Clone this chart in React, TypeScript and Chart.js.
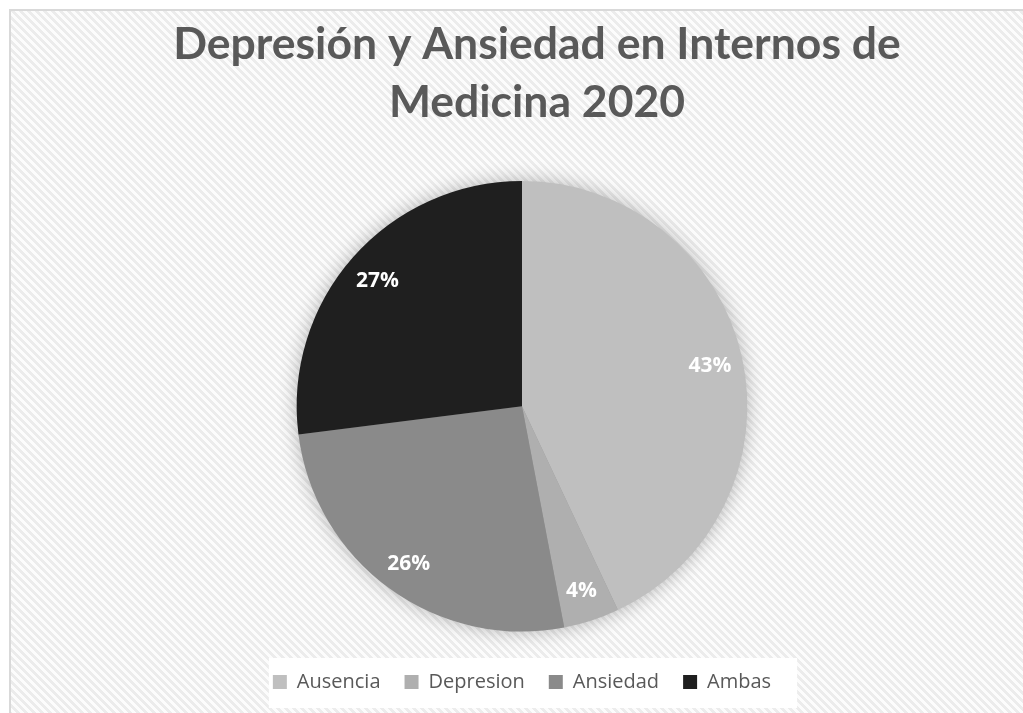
import React, { useEffect, useRef } from 'react';
import { Chart, registerables } from 'chart.js';

Chart.register(...registerables);

const TITLE_LINES = ['Depresión y Ansiedad en Internos de', 'Medicina 2020'];
const CATEGORIES = ['Ausencia', 'Depresion', 'Ansiedad', 'Ambas'];
const VALUES = [43, 4, 26, 27];
const COLORS = ['#bfbfbf', '#afafaf', '#8a8a8a', '#1f1f1f'];

const FONT = "'Open Sans', 'DejaVu Sans', sans-serif";
const TITLE_FONT = "Lato, 'Open Sans', sans-serif";

function makePattern(ctx: CanvasRenderingContext2D) {
  const size = 8;
  const c = document.createElement('canvas');
  c.width = size;
  c.height = size;
  const g = c.getContext('2d')!;
  const img = g.createImageData(size, size);
  for (let y = 0; y < size; y++) {
    for (let x = 0; x < size; x++) {
      const k = (((x - y) % size) + size) % size;
      const v = k < 4 ? 236 : 252;
      const i = (y * size + x) * 4;
      img.data[i] = v;
      img.data[i + 1] = v;
      img.data[i + 2] = v;
      img.data[i + 3] = 255;
    }
  }
  g.putImageData(img, 0, 0);
  return ctx.createPattern(c, 'repeat');
}

const backgroundPlugin = {
  id: 'bgPattern',
  afterLayout(chart: any) {
    // the title block is centred on the whole chart, not on the plot area
    const tb = chart.titleBlock;
    if (tb) tb.right = chart.width;
  },
  beforeDraw(chart: any) {
    const ctx = chart.ctx as CanvasRenderingContext2D;
    ctx.save();
    const pat = makePattern(ctx);
    if (pat) ctx.fillStyle = pat;
    ctx.fillRect(0, 0, chart.width, chart.height);
    const lg = chart.legend;
    if (lg && lg.legendHitBoxes && lg.legendHitBoxes.length) {
      const boxes = lg.legendHitBoxes;
      let l = Infinity, r = -Infinity, t = Infinity, b = -Infinity;
      boxes.forEach((h: any) => {
        l = Math.min(l, h.left);
        r = Math.max(r, h.left + h.width);
        t = Math.min(t, h.top);
        b = Math.max(b, h.top + h.height);
      });
      ctx.fillStyle = '#ffffff';
      ctx.fillRect(l - 4, t - 14, r - l + 30, b - t + 30);
    }
    ctx.restore();
  },
};

const shadowPlugin = {
  id: 'pieShadow',
  beforeDatasetsDraw(chart: any) {
    const meta = chart.getDatasetMeta(0);
    const arc = meta.data[0];
    if (!arc) return;
    const ctx = chart.ctx as CanvasRenderingContext2D;
    ctx.save();
    ctx.shadowColor = 'rgba(0,0,0,0.3)';
    ctx.shadowBlur = 20;
    ctx.fillStyle = '#999999';
    ctx.beginPath();
    ctx.arc(arc.x, arc.y, arc.outerRadius - 1, 0, Math.PI * 2);
    ctx.fill();
    ctx.restore();
  },
};

const labelPlugin = {
  id: 'sliceLabels',
  afterDatasetsDraw(chart: any) {
    const meta = chart.getDatasetMeta(0);
    const data = chart.data.datasets[0].data as number[];
    const total = data.reduce((a, b) => a + b, 0);
    const ctx = chart.ctx as CanvasRenderingContext2D;
    ctx.save();
    ctx.fillStyle = '#ffffff';
    ctx.font = `bold 21px ${FONT}`;
    ctx.textAlign = 'center';
    ctx.textBaseline = 'middle';
    meta.data.forEach((arc: any, i: number) => {
      const mid = (arc.startAngle + arc.endAngle) / 2;
      const r = arc.outerRadius * 0.855;
      const x = arc.x + Math.cos(mid) * r;
      const y = arc.y + Math.sin(mid) * r + 2;
      ctx.fillText(Math.round((data[i] / total) * 100) + '%', x, y);
    });
    ctx.restore();
  },
};

export default function App() {
  const ref = useRef<HTMLCanvasElement>(null);
  useEffect(() => {
    if (!ref.current) return;
    const chart = new Chart(ref.current, {
      type: 'pie',
      data: {
        labels: CATEGORIES,
        datasets: [
          {
            data: VALUES,
            backgroundColor: COLORS,
            borderWidth: 0,
            radius: '93.2%',
          },
        ],
      },
      options: {
        responsive: false,
        animation: false,
        layout: { padding: { left: 0, right: 30, top: 0, bottom: 11 } },
        plugins: {
          title: {
            display: true,
            text: TITLE_LINES,
            color: '#595959',
            font: { family: TITLE_FONT, size: 44.5, weight: 'bold', lineHeight: 1.32 },
            padding: { top: 4, bottom: 32 },
          },
          legend: {
            display: true,
            position: 'bottom',
            labels: {
              color: '#595959',
              font: { family: FONT, size: 20 },
              boxWidth: 14,
              boxHeight: 14,
              padding: 24,
            },
          },
          tooltip: { enabled: false },
        },
      },
      plugins: [backgroundPlugin, shadowPlugin, labelPlugin],
    });
    return () => chart.destroy();
  }, []);

  return (
    <div
      style={{
        position: 'absolute',
        left: 9,
        top: 9,
        border: '2px solid #d9d9d9',
        background: '#ffffff',
        width: 1052,
        height: 702,
        overflow: 'hidden',
      }}
    >
      <canvas ref={ref} width={1052} height={702} style={{ display: 'block' }} />
    </div>
  );
}
